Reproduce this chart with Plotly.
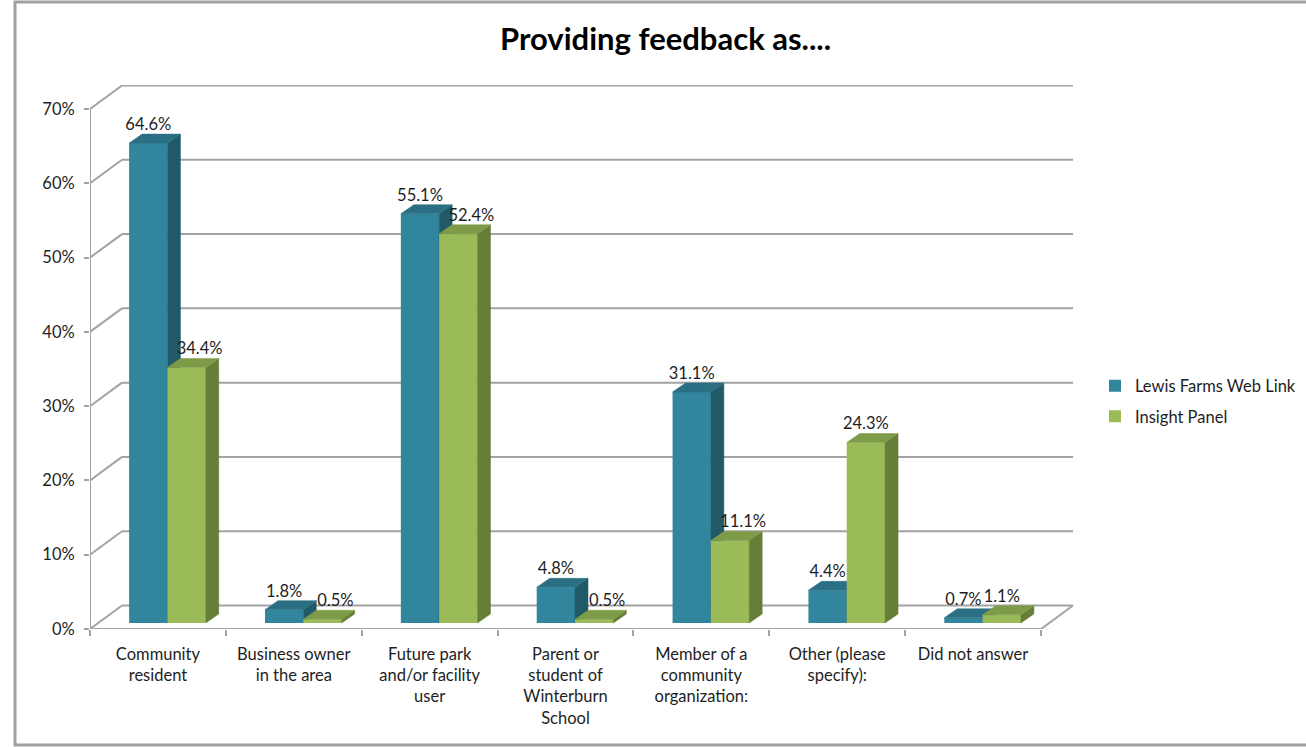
import plotly.graph_objects as go

# ---------------- data ----------------
categories = [
    "Community<br>resident",
    "Business owner<br>in the area",
    "Future park<br>and/or facility<br>user",
    "Parent or<br>student of<br>Winterburn<br>School",
    "Member of a<br>community<br>organization:",
    "Other (please<br>specify):",
    "Did not answer",
]
web_link = [64.6, 1.8, 55.1, 4.8, 31.1, 4.4, 0.7]
insight_panel = [34.4, 0.5, 52.4, 0.5, 11.1, 24.3, 1.1]
series_names = ["Lewis Farms Web Link", "Insight Panel"]
y_ticks = [0, 10, 20, 30, 40, 50, 60, 70]
title_text = "Providing feedback as...."

# ---------------- styling / geometry ----------------
W, H = 1306, 747
ML, MR, MT, MB = 90, 231, 85, 118
PLOT_W = W - ML - MR
PLOT_H = H - MT - MB
CAT_PX = 135.86
PX_PER_PCT = 520 / 70
FLOOR_DX = 32 / CAT_PX
FLOOR_DY = 23.5 / PX_PER_PCT
BAR_DX = 13 / CAT_PX
BAR_DY = 9 / PX_PER_PCT
LIFT = 6 / PX_PER_PCT
BAR_W = 0.282
OFFSETS = [0.288, 0.570]
FRONT = ["#31859C", "#9BBB59"]
TOP = ["#2A6F83", "#7E9B48"]
SIDE = ["#205A69", "#667E38"]
GRID = "#A3A3A3"
FONT = "Lato"
TXT = "#1e1e1e"
n = len(categories)
xr = [0, PLOT_W / CAT_PX]
yr = [0, PLOT_H / PX_PER_PCT]


def faces(values, off):
    sx, sy, tx, ty = [], [], [], []
    for i, v in enumerate(values):
        x0 = i + off
        x1 = x0 + BAR_W
        b = LIFT
        t = LIFT + v
        sx += [x1, x1 + BAR_DX, x1 + BAR_DX, x1, x1, None]
        sy += [b, b + BAR_DY, t + BAR_DY, t, b, None]
        tx += [x0, x1, x1 + BAR_DX, x0 + BAR_DX, x0, None]
        ty += [t, t, t + BAR_DY, t + BAR_DY, t, None]
    return sx, sy, tx, ty


fig = go.Figure()
all_series = [web_link, insight_panel]
axes = [("x", "y"), ("x2", "y2")]
for k, vals in enumerate(all_series):
    xa, ya = axes[k]
    fig.add_trace(go.Bar(
        x=list(range(n)), y=vals, base=[LIFT] * n,
        offset=OFFSETS[k], width=BAR_W,
        marker=dict(color=FRONT[k], line=dict(width=0)),
        name=series_names[k], legendgroup=series_names[k],
        xaxis=xa, yaxis=ya, hoverinfo="skip",
    ))
    sx, sy, tx, ty = faces(vals, OFFSETS[k])
    fig.add_trace(go.Scatter(
        x=sx, y=sy, fill="toself", fillcolor=SIDE[k], mode="lines",
        line=dict(color=SIDE[k], width=0.5), showlegend=False,
        xaxis=xa, yaxis=ya, hoverinfo="skip",
    ))
    fig.add_trace(go.Scatter(
        x=tx, y=ty, fill="toself", fillcolor=TOP[k], mode="lines",
        line=dict(color=TOP[k], width=0.5), showlegend=False,
        xaxis=xa, yaxis=ya, hoverinfo="skip",
    ))

# value labels
lx, ly, lt = [], [], []
for i, v in enumerate(web_link):
    lx.append(i + OFFSETS[0] + BAR_W / 2)
    ly.append(LIFT + v + BAR_DY)
    lt.append(f"{v:.1f}%")
for i, v in enumerate(insight_panel):
    shift = BAR_DX if web_link[i] > v else 0
    lx.append(i + OFFSETS[1] + BAR_W / 2 + shift)
    ly.append(LIFT + v + BAR_DY)
    lt.append(f"{v:.1f}%")
fig.add_trace(go.Scatter(
    x=lx, y=ly, text=lt, mode="text", textposition="top center",
    textfont=dict(family=FONT, size=16.5, color=TXT),
    showlegend=False, xaxis="x2", yaxis="y2", hoverinfo="skip", cliponaxis=False,
))

# walls / floor lines
shapes = []
for v in y_ticks:
    shapes.append(dict(type="line", xref="x", yref="y", layer="below",
                       x0=FLOOR_DX, y0=v + FLOOR_DY, x1=n + FLOOR_DX, y1=v + FLOOR_DY,
                       line=dict(color=GRID, width=2)))
    shapes.append(dict(type="line", xref="x", yref="y", layer="below",
                       x0=0, y0=v, x1=FLOOR_DX, y1=v + FLOOR_DY,
                       line=dict(color=GRID, width=2)))
shapes.append(dict(type="line", xref="x", yref="y", layer="below",
                   x0=0, y0=0, x1=0, y1=y_ticks[-1], line=dict(color=GRID, width=2)))
shapes.append(dict(type="line", xref="x", yref="y", layer="below",
                   x0=0, y0=0, x1=n, y1=0, line=dict(color=GRID, width=2)))
shapes.append(dict(type="line", xref="x", yref="y", layer="below",
                   x0=n, y0=0, x1=n + FLOOR_DX, y1=FLOOR_DY, line=dict(color=GRID, width=2)))
# chart border
shapes.append(dict(type="rect", xref="paper", yref="paper", layer="below",
                   x0=(15 - ML) / PLOT_W, x1=(1312 - ML) / PLOT_W,
                   y0=(PLOT_H + MT - 745) / PLOT_H, y1=(PLOT_H + MT - 2) / PLOT_H,
                   line=dict(color="#A0A0A0", width=3)))

fig.update_layout(
    width=W, height=H,
    margin=dict(l=ML, r=MR, t=MT, b=MB, autoexpand=False),
    paper_bgcolor="white", plot_bgcolor="rgba(0,0,0,0)",
    font=dict(family=FONT, size=16.5, color=TXT),
    shapes=shapes,
    showlegend=True,
    legend=dict(x=(1095 - ML) / PLOT_W, y=(PLOT_H + MT - 401) / PLOT_H,
                xanchor="left", yanchor="middle", tracegroupgap=6,
                font=dict(family=FONT, size=16.5, color=TXT),
                bgcolor="rgba(0,0,0,0)", itemwidth=30),
    annotations=[dict(text=f"<b>{title_text}</b>", xref="paper", yref="paper",
                      x=(665 - ML) / PLOT_W, y=(PLOT_H + MT - 38) / PLOT_H,
                      xanchor="center", yanchor="middle", showarrow=False,
                      font=dict(family=FONT, size=31, color="#000000"))],
    xaxis=dict(range=xr, tickvals=[i + 0.5 for i in range(n)], ticktext=categories,
               ticks="", showgrid=False, zeroline=False, showline=False,
               tickfont=dict(family=FONT, size=16.5, color=TXT),
               ticklabelstandoff=13,
               minor=dict(tickvals=list(range(n + 1)), ticks="outside", ticklen=6,
                          tickcolor=GRID, tickwidth=2, showgrid=False),
               fixedrange=True),
    yaxis=dict(range=yr, tickvals=y_ticks, ticktext=[f"{v}%" for v in y_ticks],
               ticks="outside", ticklen=5, tickcolor=GRID, tickwidth=2,
               showgrid=False, zeroline=False, showline=False,
               ticklabelstandoff=6,
               tickfont=dict(family=FONT, size=16.5, color=TXT), fixedrange=True),
    xaxis2=dict(range=xr, overlaying="x", visible=False, fixedrange=True),
    yaxis2=dict(range=yr, overlaying="y", visible=False, fixedrange=True),
    hovermode=False,
)

fig.write_html("out.html", config={"displayModeBar": False},
               post_script="document.body.style.margin='0';document.body.style.overflow='hidden';")
